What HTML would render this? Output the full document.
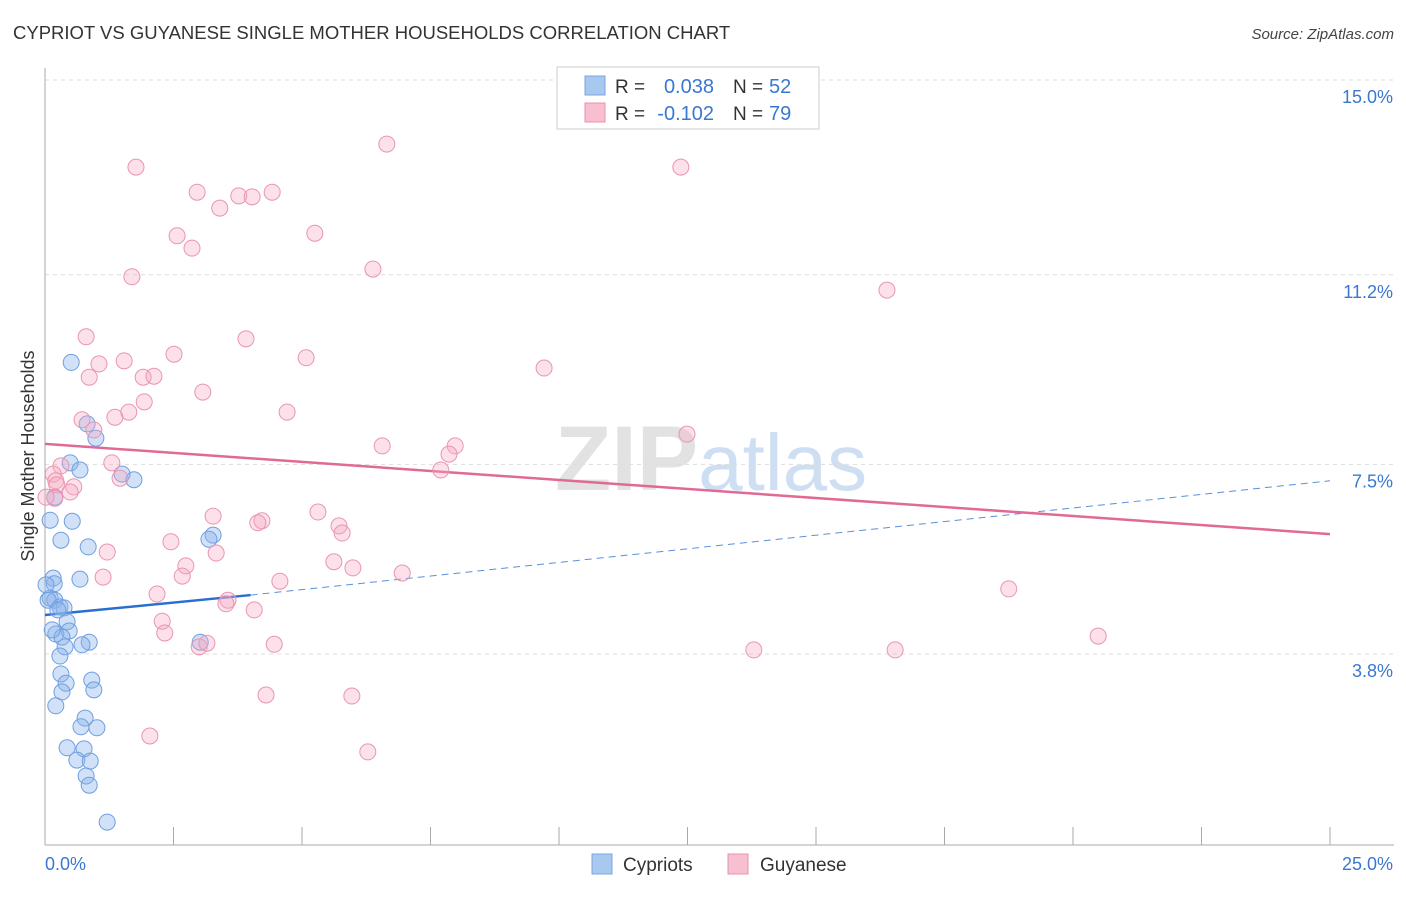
<!DOCTYPE html>
<html><head><meta charset="utf-8"><style>
body{margin:0;background:#fff;font-family:"Liberation Sans",sans-serif;}
svg text{font-family:"Liberation Sans",sans-serif;}
</style></head><body>
<svg id="chart" width="1406" height="892" xmlns="http://www.w3.org/2000/svg">
<text x="13" y="39" font-size="18.5" fill="#333">CYPRIOT VS GUYANESE SINGLE MOTHER HOUSEHOLDS CORRELATION CHART</text>
<text x="1394" y="39" font-size="15" fill="#444" font-style="italic" text-anchor="end">Source: ZipAtlas.com</text>
<text x="555" y="490" font-size="92" font-family="Liberation Serif" fill="#e2e2e2" font-weight="bold">ZIP<tspan fill="#cfdff3" font-family="Liberation Sans" font-weight="normal" font-size="80">atlas</tspan></text>
<g id="grid"></g>
<g id="axes"></g>
<g id="trend"></g>
<g id="pts"></g>
<text transform="translate(34,456) rotate(-90)" font-size="18" fill="#333" text-anchor="middle">Single Mother Households</text>
<g>
<rect x="557" y="67" width="262" height="62" fill="#fff" stroke="#ccc"/>
<rect x="585" y="76" width="20" height="19" fill="#a8c8f0" stroke="#7aa6e0"/>
<rect x="585" y="103" width="20" height="19" fill="#f7bfd0" stroke="#e890aa"/>
<text x="615" y="93" font-size="19" fill="#333">R =</text>
<text x="714" y="93" font-size="20" fill="#3a78d0" text-anchor="end">0.038</text>
<text x="733" y="93" font-size="19" fill="#333">N =</text>
<text x="769" y="93" font-size="20" fill="#3a78d0">52</text>
<text x="615" y="120" font-size="19" fill="#333">R =</text>
<text x="714" y="120" font-size="20" fill="#3a78d0" text-anchor="end">-0.102</text>
<text x="733" y="120" font-size="19" fill="#333">N =</text>
<text x="769" y="120" font-size="20" fill="#3a78d0">79</text>
</g>
<g>
<rect x="592" y="854" width="20" height="20" fill="#a8c8f0" stroke="#7aa6e0"/>
<text x="623" y="871" font-size="19" fill="#333">Cypriots</text>
<rect x="728" y="854" width="20" height="20" fill="#f7bfd0" stroke="#e890aa"/>
<text x="760" y="871" font-size="19" fill="#333">Guyanese</text>
</g>
</svg>
<script>
const yTicks=[15.0,11.2,7.5,3.8];
const yTickLabels=["15.0%","11.2%","7.5%","3.8%"];
const xTickCount=11;
const blueX=[0.51,0.99,0.82,0.49,0.68,1.50,1.73,0.19,0.10,0.53,0.31,0.84,3.27,3.19,0.68,0.16,0.18,0.10,0.19,0.29,0.37,0.43,0.47,0.21,0.33,0.86,0.72,0.39,3.02,0.29,0.31,0.91,0.41,0.33,0.95,0.21,0.78,0.70,1.01,0.43,0.76,0.62,0.88,0.80,0.86,1.21,0.02,0.06,0.14,0.25];
const blueY=[9.49,8.01,8.29,7.53,7.39,7.31,7.20,6.86,6.41,6.39,6.02,5.89,6.12,6.04,5.26,5.28,5.17,4.89,4.85,4.72,4.70,4.43,4.25,4.19,4.13,4.03,3.98,3.94,4.03,3.76,3.41,3.29,3.23,3.06,3.10,2.79,2.55,2.38,2.36,1.97,1.95,1.73,1.71,1.42,1.24,0.52,5.15,4.85,4.27,4.66];
const pinkX=[1.77,6.65,12.37,2.96,3.77,4.03,4.42,3.40,2.57,2.86,5.25,6.38,1.69,16.38,0.80,3.91,2.51,5.08,1.05,1.54,9.71,0.86,1.91,2.12,3.07,1.93,1.63,4.71,0.72,1.36,0.95,6.56,7.98,12.49,7.86,7.70,1.30,0.31,1.46,0.16,0.56,0.21,0.23,0.49,0.19,5.31,3.27,4.22,4.14,5.72,5.78,2.45,1.21,3.33,5.62,2.74,5.99,2.67,6.95,1.13,4.57,2.18,3.56,3.52,4.07,2.28,2.33,3.00,3.15,4.46,13.79,16.54,18.75,20.49,4.30,5.97,2.04,6.28,0.02];
const pinkY=[13.30,13.75,13.30,12.81,12.74,12.72,12.81,12.50,11.96,11.72,12.01,11.31,11.16,10.90,9.99,9.95,9.65,9.58,9.46,9.52,9.38,9.20,9.20,9.22,8.91,8.72,8.52,8.52,8.37,8.42,8.17,7.86,7.86,8.09,7.70,7.39,7.53,7.47,7.23,7.31,7.06,7.18,7.10,6.96,6.84,6.57,6.49,6.40,6.36,6.30,6.16,5.99,5.79,5.77,5.60,5.52,5.48,5.32,5.38,5.30,5.22,4.97,4.85,4.78,4.66,4.44,4.21,3.94,4.01,3.99,3.88,3.88,5.07,4.15,3.00,2.98,2.20,1.89,6.86];
const blueTrendX=[0,4,25];
const blueTrendY=[4.56,4.95,7.18];
const pinkTrendX=[0,25];
const pinkTrendY=[7.90,6.14];
const NS="http://www.w3.org/2000/svg";
const xs=v=>45+v*51.4;
const ys=v=>80+(15-v)*51.25;
function mk(t,a,p){const e=document.createElementNS(NS,t);for(const k in a)e.setAttribute(k,a[k]);document.getElementById(p).appendChild(e);return e;}
yTicks.forEach((t,i)=>{
 const l=mk('line',{x1:45,x2:1394,y1:ys(t),y2:ys(t),stroke:'#ddd','stroke-dasharray':'4,4'},'grid');
 
 
 const tx=mk('text',{x:1393,y:ys(t)+23,'font-size':18,fill:'#3a78d0','text-anchor':'end'},'grid');
 tx.textContent=yTickLabels[i];
 
 
});
const ya=mk('line',{x1:45,x2:45,y1:68,y2:845,stroke:'#aaa'},'axes');


const xa=mk('line',{x1:45,x2:1394,y1:845,y2:845,stroke:'#aaa'},'axes');


for(let i=0;i<xTickCount;i++){const v=i*2.5;
 const t=mk('line',{x1:xs(v),x2:xs(v),y1:827,y2:845,stroke:'#aaa'},'axes');
 
 }
const x0=mk('text',{x:45,y:870,'font-size':18,fill:'#3a78d0'},'axes');x0.textContent='0.0%';


const x1=mk('text',{x:1393,y:870,'font-size':18,fill:'#3a78d0','text-anchor':'end'},'axes');x1.textContent='25.0%';


blueX.forEach((v,i)=>{const c=mk('circle',{cx:xs(v),cy:ys(blueY[i]),r:8,fill:'rgba(140,180,235,0.4)',stroke:'#6f9fe0','stroke-width':1},'pts');
 
 });
pinkX.forEach((v,i)=>{const c=mk('circle',{cx:xs(v),cy:ys(pinkY[i]),r:8,fill:'rgba(245,170,195,0.35)',stroke:'#e995b0','stroke-width':1},'pts');
 
 });
const bs=mk('line',{x1:xs(blueTrendX[0]),y1:ys(blueTrendY[0]),x2:xs(blueTrendX[1]),y2:ys(blueTrendY[1]),stroke:'#2a6fd0','stroke-width':2.5},'trend');


const bd=mk('line',{x1:xs(blueTrendX[1]),y1:ys(blueTrendY[1]),x2:xs(blueTrendX[2]),y2:ys(blueTrendY[2]),stroke:'#5a90dc','stroke-width':1,'stroke-dasharray':'7,5'},'trend');


const pl=mk('line',{x1:xs(pinkTrendX[0]),y1:ys(pinkTrendY[0]),x2:xs(pinkTrendX[1]),y2:ys(pinkTrendY[1]),stroke:'#e06a95','stroke-width':2.5},'trend');


</script>
</body></html>
